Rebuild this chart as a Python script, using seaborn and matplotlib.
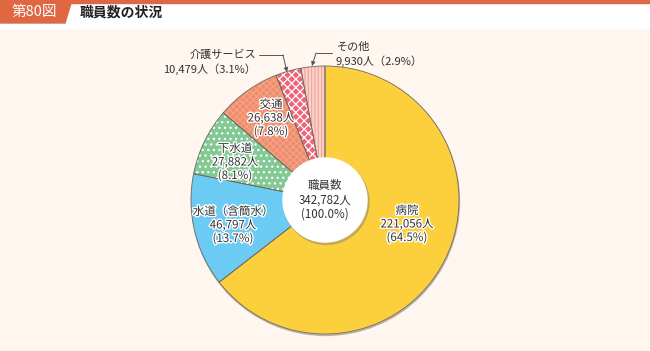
import matplotlib
matplotlib.use('Agg')
import matplotlib.pyplot as plt
import matplotlib.patheffects as pe
from matplotlib.patches import Circle, Polygon, Rectangle
import seaborn as sns

# データ
categories = ['病院', '水道（含簡水）', '下水道', '交通', '介護サービス', 'その他']
counts = [221056, 46797, 27882, 26638, 10479, 9930]
shares = [64.5, 13.7, 8.1, 7.8, 3.1, 2.9]
total_label = '職員数'
total_count = 342782
total_share = 100.0

sns.set_theme(style='white')
plt.rcParams['font.family'] = ['Noto Sans CJK JP', 'DejaVu Sans']
plt.rcParams['hatch.linewidth'] = 0.9

cores = ['#fcd03c', '#6ccbf3', '#82c994', '#f08c6c', '#f06478', '#fbd3ca']
hatches = [None, None, '...', 'xxxxx', 'xxxx', '|||||']
hatch_cores = [None, None, 'white', '#f3a285', 'white', '#f2a59c']
fundo = '#fef6ef'
laranja = '#df6843'
cinza_escuro = '#333333'

fig = plt.figure(figsize=(6.5, 3.51), dpi=100)
fig.patch.set_facecolor(fundo)
ax = fig.add_axes([0, 0, 1, 1])
ax.set_facecolor(fundo)

centro = (325, 200)
raio = 134

# sombra
ax.add_patch(Circle((centro[0] + 0.5, centro[1] + 1.5), raio, color='#a39a8c', alpha=0.6, zorder=0.5))

# base
ax.pie(counts, colors=cores, startangle=-90, counterclock=True, center=centro, radius=raio,
       wedgeprops=dict(linewidth=0), frame=True)
# hachuras
fatias, _ = ax.pie(counts, colors=['none'] * len(counts), startangle=-90, counterclock=True,
                   center=centro, radius=raio, wedgeprops=dict(linewidth=0), frame=True)
for f, h, c in zip(fatias, hatches, hatch_cores):
    if h:
        f.set_hatch(h)
        f.set_edgecolor(c)
        f.set_facecolor('none')
# bordas
ax.pie(counts, colors=['none'] * len(counts), startangle=-90, counterclock=True, center=centro,
       radius=raio, wedgeprops=dict(linewidth=0.6, edgecolor='#6e6a60'), frame=True)

# círculo central
ax.add_patch(Circle((centro[0] + 1.5, centro[1] + 2), 42.5, color='#8a8478', alpha=0.4, zorder=5))
ax.add_patch(Circle(centro, 42, color='white', zorder=6))

ax.set_xlim(0, 650)
ax.set_ylim(351, 0)
ax.set_aspect('auto')
ax.axis('off')

halo = [pe.withStroke(linewidth=2, foreground='white')]

posicoes = {0: (407, 224), 1: (233, 225), 2: (235, 162), 3: (271, 118)}
for i, (x, y) in posicoes.items():
    ax.text(x, y, f'{categories[i]}\n{counts[i]:,}人\n({shares[i]:.1f}%)', ha='center',
            va='center', fontsize=8.3, color=cinza_escuro, linespacing=1.05,
            path_effects=halo, zorder=7)

ax.text(centro[0], centro[1], f'{total_label}\n{total_count:,}人\n({total_share:.1f}%)',
        ha='center', va='center', fontsize=8.3, color=cinza_escuro, linespacing=1.1, zorder=7)

# rótulos externos
ax.text(256, 55, categories[4], ha='right', va='center', fontsize=8, color=cinza_escuro)
ax.text(256, 69, f'{counts[4]:,}人（{shares[4]:.1f}%）', ha='right', va='center', fontsize=8,
        color=cinza_escuro)
ax.text(337, 47, categories[5], ha='left', va='center', fontsize=8, color=cinza_escuro)
ax.text(336, 61, f'{counts[5]:,}人（{shares[5]:.1f}%）', ha='left', va='center', fontsize=8,
        color=cinza_escuro)

seta = dict(arrowstyle='-|>', color='#555555', lw=0.7, mutation_scale=6, shrinkA=0, shrinkB=0)
ax.plot([259, 283], [55, 55], color='#555555', lw=0.7)
ax.annotate('', xy=(287, 72), xytext=(283, 55), arrowprops=seta)
ax.plot([316, 332], [53, 53], color='#555555', lw=0.7)
ax.annotate('', xy=(312, 66), xytext=(316, 53), arrowprops=seta)

# cabeçalho
ax.add_patch(Rectangle((0, 0), 650, 28, color='white', zorder=8))
ax.add_patch(Rectangle((0, 0), 650, 2.5, color=laranja, zorder=9))
ax.add_patch(Polygon([(0, 0), (72, 0), (65, 23), (0, 23)], color=laranja, zorder=9))
ax.text(34, 12, '第80図', ha='center', va='center', fontsize=10.5, color='white', zorder=10)
ax.text(80, 12, '職員数の状況', ha='left', va='center', fontsize=10, fontweight='bold',
        color='#222222', zorder=10)

fig.savefig('out.png', dpi=100, facecolor=fundo)
